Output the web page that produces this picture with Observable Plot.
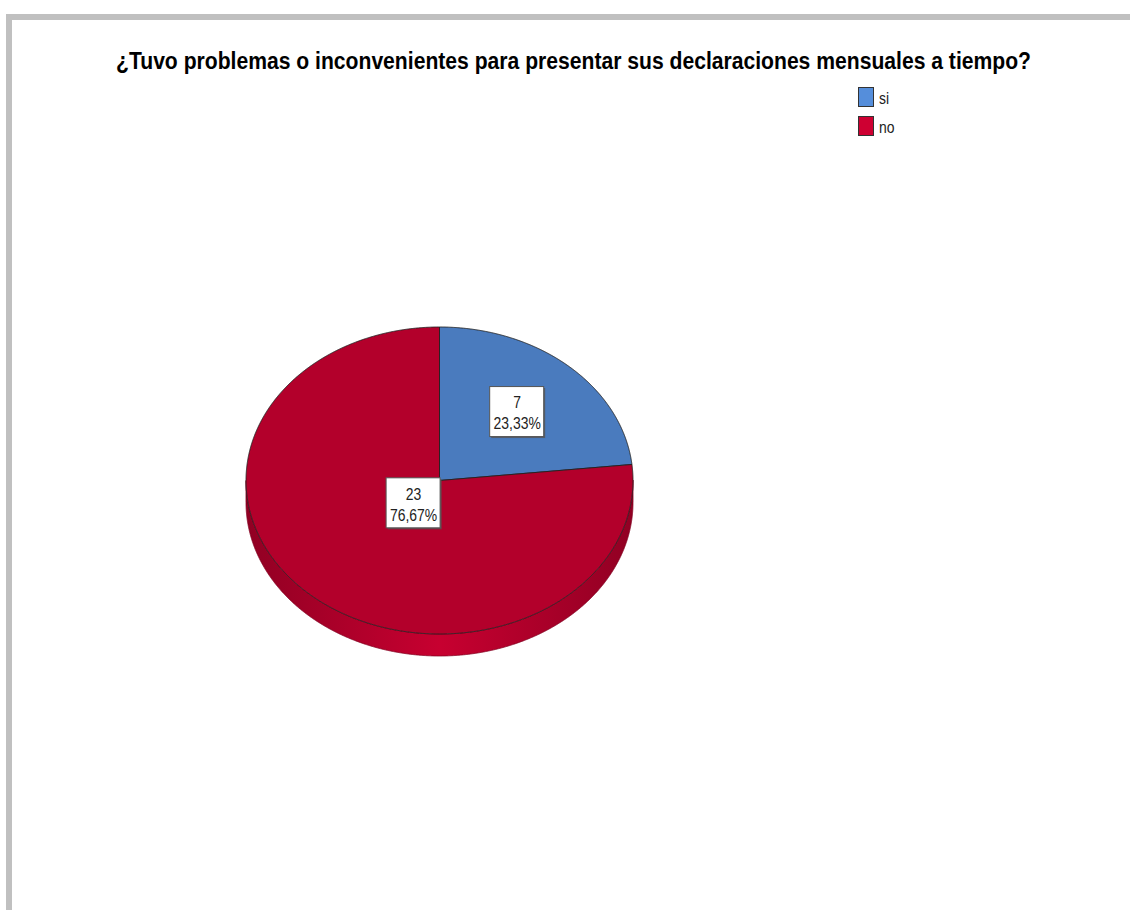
<!DOCTYPE html>
<html><head><meta charset="utf-8">
<script src="https://cdn.jsdelivr.net/npm/d3@7"></script>
<script src="https://cdn.jsdelivr.net/npm/@observablehq/plot@0.6"></script>
<style>
html,body{margin:0;padding:0;background:#fff;width:1130px;height:910px;overflow:hidden;}
#frame{position:absolute;left:6px;top:14px;width:1130px;height:900px;border-top:6px solid #c0c0c0;border-left:6px solid #c0c0c0;box-sizing:border-box;}
#chart{position:absolute;left:0;top:0;}
#title{position:absolute;left:116px;top:48px;font-family:"Liberation Sans",Arial,sans-serif;font-weight:bold;font-size:23px;line-height:26px;color:#000;white-space:nowrap;transform-origin:0 0;display:inline-block;}
#legend{position:absolute;left:858px;top:87px;font-family:"Liberation Sans",Arial,sans-serif;font-size:17px;color:#222;}
.li{position:relative;height:29px;}
.sw{position:absolute;left:0;top:0;width:16px;height:20px;border:1px solid #333;box-sizing:border-box;}
.lt{position:absolute;left:21px;top:2px;line-height:20px;display:inline-block;transform:scaleX(0.82);transform-origin:0 0;}
</style></head><body>
<div id="frame"></div>
<div id="chart"></div>
<div id="title"></div>
<div id="legend"></div>
<script>
const titleText = "¿Tuvo problemas o inconvenientes para presentar sus declaraciones mensuales a tiempo?";
const categories = ["si", "no"];
const counts = [7, 23];
const colors = ["#4a7bbe", "#b3002b"];

// layout (styling, not data)
const cx = 439, cy = 480, rx = 193.5, ry = 153.5, depth = 22;
const labelRadius = [0.6, 0.2];
const narrowScale = 0.82;
const titleWidth = 915;

const titleEl = document.getElementById("title");
titleEl.textContent = titleText;
const tw = titleEl.getBoundingClientRect().width;
titleEl.style.transform = `scaleX(${titleWidth / tw})`;

const total = d3.sum(counts);
const arcs = d3.pie().sort(null)(counts);
const px = a => cx + rx * Math.sin(a);
const py = a => cy - ry * Math.cos(a);

const topPts = [];
const sidePts = [];
arcs.forEach((arc, i) => {
  const s = arc.startAngle, e = arc.endAngle;
  const n = Math.max(2, Math.ceil((e - s) / 0.004));
  topPts.push({k: i, x: cx, y: cy});
  for (let j = 0; j <= n; j++) {
    const a = s + (e - s) * j / n;
    topPts.push({k: i, x: px(a), y: py(a)});
  }
  topPts.push({k: i, x: cx, y: cy});
  const s2 = Math.max(s, Math.PI / 2), e2 = Math.min(e, 3 * Math.PI / 2);
  if (e2 > s2) {
    const m = Math.max(2, Math.ceil((e2 - s2) / 0.004));
    const top = [], bot = [];
    for (let j = 0; j <= m; j++) {
      const a = s2 + (e2 - s2) * j / m;
      top.push({k: i, x: px(a), y: py(a)});
      bot.push({k: i, x: px(a), y: py(a) + depth});
    }
    sidePts.push(...top, ...bot.reverse(), top[0]);
  }
});

const labels = arcs.map((arc, i) => {
  const mid = (arc.startAngle + arc.endAngle) / 2;
  const f = labelRadius[i];
  const pct = (counts[i] / total * 100).toFixed(2).replace(".", ",") + "%";
  return {
    x: cx + f * rx * Math.sin(mid),
    y: cy - f * ry * Math.cos(mid),
    text: `${counts[i]}\n${pct}`
  };
});

const bw = 27, bh = 25;
const chart = Plot.plot({
  width: 1130, height: 910,
  marginTop: 0, marginRight: 0, marginBottom: 0, marginLeft: 0,
  x: {domain: [0, 1130], range: [0, 1130], axis: null},
  y: {domain: [0, 910], range: [0, 910], axis: null},
  marks: [
    Plot.line(sidePts, {x: "x", y: "y", z: "k", fill: d => `url(#side${d.k})`, stroke: d => d3.color(colors[d.k]).darker(0.9).formatHex(), strokeWidth: 0.8}),
    Plot.line(topPts, {x: "x", y: "y", z: "k", fill: d => colors[d.k], stroke: "#222", strokeWidth: 0.9, strokeLinejoin: "round"}),
    Plot.rect(labels, {x1: d => d.x - bw + 1.5, x2: d => d.x + bw + 1.5, y1: d => d.y - bh + 1.5, y2: d => d.y + bh + 1.5, fill: "#555", fillOpacity: 0.8}),
    Plot.rect(labels, {x1: d => d.x - bw, x2: d => d.x + bw, y1: d => d.y - bh, y2: d => d.y + bh, fill: "#fff", stroke: "#555", strokeWidth: 1}),
    Plot.text(labels, {x: "x", y: "y", text: "text", fontSize: 17, lineHeight: 1.25, fill: "#222", fontFamily: '"Liberation Sans",Arial,sans-serif'})
  ]
});

// narrow the label text (no condensed font available)
chart.querySelectorAll('g[aria-label="text"] text').forEach(t => {
  const tr = t.getAttribute("transform") || "";
  t.setAttribute("transform", `${tr} scale(${narrowScale},1)`);
});

// gradients for the pie's side wall
const defs = colors.map((c, i) => {
  const d = d3.color(c).darker(0.6).formatHex();
  const b = d3.color(c).brighter(0.3).formatHex();
  return `<linearGradient id="side${i}" x1="0" x2="1" y1="0" y2="0"><stop offset="0" stop-color="${d}"/><stop offset="0.5" stop-color="${b}"/><stop offset="1" stop-color="${d}"/></linearGradient>`;
}).join("");
chart.insertAdjacentHTML("afterbegin", `<defs>${defs}</defs>`);
chart.style.background = "transparent";
document.getElementById("chart").appendChild(chart);

const legend = document.getElementById("legend");
categories.forEach((c, i) => {
  const row = document.createElement("div");
  row.className = "li";
  const sw = document.createElement("span");
  sw.className = "sw";
  sw.style.background = d3.color(colors[i]).brighter(0.4).formatHex();
  const t = document.createElement("span");
  t.className = "lt";
  t.textContent = c;
  row.appendChild(sw); row.appendChild(t);
  legend.appendChild(row);
});
</script>
</body></html>
